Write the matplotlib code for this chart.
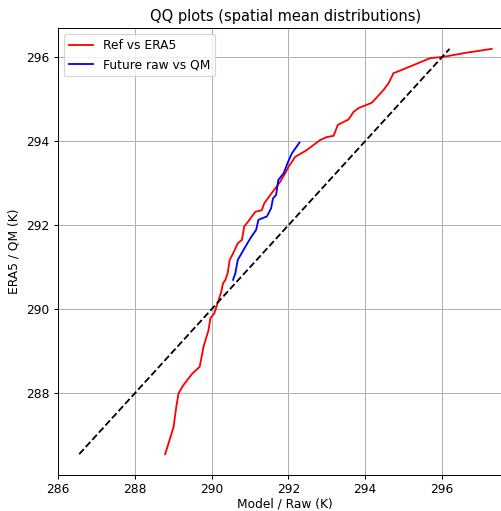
import matplotlib
matplotlib.use("Agg")
import matplotlib.pyplot as plt

# Ref (model) vs ERA5 quantiles, K
ref_model = [288.79, 289.01, 289.08, 289.14, 289.27, 289.49, 289.69, 289.79, 289.92, 289.97,
             290.07, 290.14, 290.24, 290.30, 290.36, 290.42, 290.47, 290.56, 290.68, 290.79,
             290.85, 290.92, 291.14, 291.31, 291.37, 291.53, 291.79, 291.92, 292.01, 292.18,
             292.48, 292.83, 293.00, 293.18, 293.29, 293.57, 293.70, 293.83, 294.18, 294.48,
             294.61, 294.74, 295.17, 295.70, 296.04, 296.65, 297.30]
ref_era5 = [286.55, 287.20, 287.68, 288.00, 288.20, 288.46, 288.63, 289.11, 289.50, 289.79,
            289.90, 290.10, 290.38, 290.62, 290.70, 290.86, 291.17, 291.33, 291.57, 291.65,
            291.97, 292.05, 292.32, 292.36, 292.52, 292.72, 293.04, 293.24, 293.40, 293.63,
            293.79, 294.03, 294.10, 294.13, 294.39, 294.52, 294.70, 294.79, 294.92, 295.22,
            295.38, 295.62, 295.78, 295.98, 296.01, 296.11, 296.20]

# Future raw vs quantile-mapped quantiles, K
fut_raw = [290.56, 290.62, 290.68, 290.83, 291.01, 291.16, 291.22, 291.44, 291.55, 291.60,
           291.68, 291.74, 291.88, 291.98, 292.09, 292.29]
fut_qm = [290.70, 290.86, 291.17, 291.41, 291.69, 291.89, 292.13, 292.21, 292.40, 292.64,
          292.72, 293.08, 293.24, 293.48, 293.71, 293.97]

# reference looks like a slightly shrunk render, so draw at a lower dpi
dpi = 88
fig = plt.figure(figsize=(501 / dpi, 511 / dpi), dpi=dpi)
# axes run past the right edge (reference is cropped there)
ax = fig.add_axes([0.1152, 0.0710, 0.9076, 0.8736])

ax.plot(ref_model, ref_era5, color="red", label="Ref vs ERA5")
ax.plot(fut_raw, fut_qm, color="blue", label="Future raw vs QM")

lims = [min(ref_era5), max(ref_era5)]
ax.plot(lims, lims, "k--")

ax.set_xlim(285.99, 297.84)
ax.set_ylim(286.06, 296.69)

ax.set_title("QQ plots (spatial mean distributions)")
ax.set_xlabel("Model / Raw (K)", labelpad=1)
ax.set_ylabel("ERA5 / QM (K)")
ax.legend(loc="upper left")
ax.grid(True)

fig.savefig("out.png", dpi=dpi)
